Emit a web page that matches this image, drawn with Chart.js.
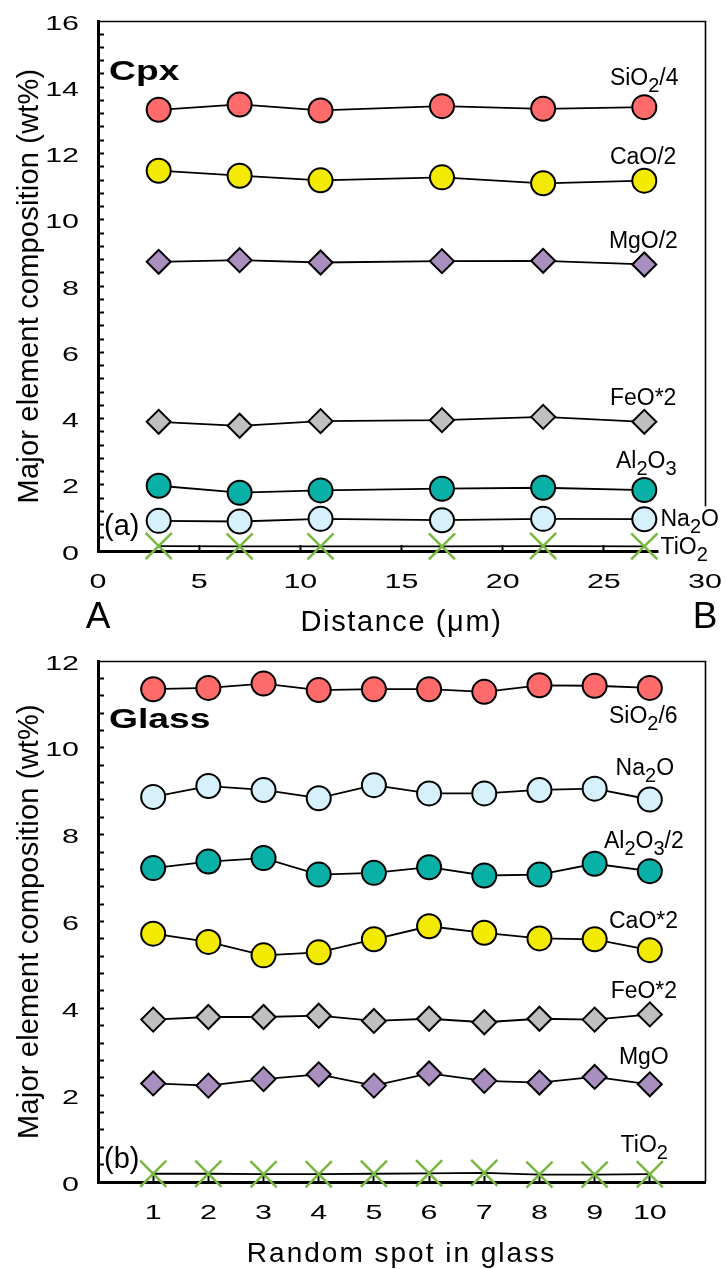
<!DOCTYPE html>
<html>
<head>
<meta charset="utf-8">
<script src="https://cdn.jsdelivr.net/npm/chart.js@4.4.1/dist/chart.umd.min.js"></script>
<style>
  html, body { margin: 0; padding: 0; background: #fff; }
  #wrap { position: relative; width: 726px; height: 1269px; }
  .panel { position: absolute; left: 0; width: 726px; }
  #p1 { top: 0; height: 640px; }
  #p2 { top: 640px; height: 629px; }
</style>
</head>
<body>
<div id="wrap">
  <div class="panel" id="p1"><canvas id="cpxChart" width="726" height="640"></canvas></div>
  <div class="panel" id="p2"><canvas id="glassChart" width="726" height="629"></canvas></div>
</div>
<script>
// (a) Cpx traverse A -> B, distance in um
const cpxDistance = [3, 7, 11, 17, 22, 27];
const cpxSiO2 = [13.32, 13.48, 13.30, 13.43, 13.35, 13.40];  // SiO2/4
const cpxCaO = [11.48, 11.33, 11.19, 11.28, 11.10, 11.18];   // CaO/2
const cpxMgO = [8.73, 8.78, 8.71, 8.75, 8.76, 8.65];         // MgO/2
const cpxFeO = [3.90, 3.78, 3.92, 3.95, 4.05, 3.90];         // FeO*2
const cpxAl2O3 = [1.97, 1.76, 1.83, 1.88, 1.91, 1.84];
const cpxNa2O = [0.91, 0.89, 0.97, 0.93, 0.97, 0.96];
const cpxTiO2 = [0.15, 0.14, 0.14, 0.14, 0.15, 0.14];
const cpxXLabels = [0, 5, 10, 15, 20, 25, 30];
const cpxYLabels = [0, 2, 4, 6, 8, 10, 12, 14, 16];

// (b) random spots in glass
const glassSpot = [1, 2, 3, 4, 5, 6, 7, 8, 9, 10];
const glassSiO2 = [11.35, 11.38, 11.48, 11.33, 11.35, 11.35, 11.29, 11.44, 11.43, 11.38];  // SiO2/6
const glassNa2O = [8.87, 9.12, 9.03, 8.84, 9.14, 8.95, 8.95, 9.03, 9.06, 8.81];
const glassAl2O3 = [7.23, 7.38, 7.46, 7.08, 7.12, 7.25, 7.06, 7.08, 7.33, 7.16];      // Al2O3/2
const glassCaO = [5.72, 5.53, 5.22, 5.29, 5.59, 5.89, 5.74, 5.61, 5.59, 5.34];        // CaO*2
const glassFeO = [3.74, 3.80, 3.80, 3.83, 3.71, 3.76, 3.68, 3.76, 3.74, 3.86];        // FeO*2
const glassMgO = [2.27, 2.22, 2.37, 2.48, 2.22, 2.50, 2.33, 2.29, 2.42, 2.25];
const glassTiO2 = [0.19, 0.19, 0.18, 0.18, 0.19, 0.20, 0.21, 0.17, 0.17, 0.18];
const glassXLabels = [1, 2, 3, 4, 5, 6, 7, 8, 9, 10];
const glassYLabels = [0, 2, 4, 6, 8, 10, 12];

const FONT = '"Liberation Sans", Arial, sans-serif';
const SUBSHIFT = 7;

const fills = {
  sio2: '#ff6b6b',
  cao: '#f2ea00',
  mgo: '#a98fc0',
  feo: '#bfbfbf',
  al: '#08b0a5',
  na: '#d6f1fb',
  ti: '#78b840'
};

function pts(xs, ys) {
  return xs.map((v, i) => ({ x: v, y: ys[i] }));
}

function series(label, xs, ys, shape, fill) {
  const d = {
    label: label,
    data: pts(xs, ys),
    borderColor: '#000',
    borderWidth: 1.8,
    fill: false,
    tension: 0,
    clip: false,
    pointBorderColor: '#000',
    pointBorderWidth: 2,
    pointBackgroundColor: fill
  };
  if (shape === 'circle') { d.pointStyle = 'circle'; d.pointRadius = 12; }
  if (shape === 'diamond') { d.pointStyle = 'rectRot'; d.pointRadius = 12; }
  if (shape === 'cross') {
    d.pointStyle = 'crossRot';
    d.pointRadius = 18.5;
    d.pointBorderColor = fill;
    d.pointBorderWidth = 2.5;
  }
  return d;
}

// 'SiO_2/4' -> SiO, subscript 2, /4
function parseRich(text) {
  const parts = [];
  let buf = '';
  for (let i = 0; i < text.length; i++) {
    if (text[i] === '_' && i + 1 < text.length) {
      if (buf) { parts.push({ t: buf, sub: false }); buf = ''; }
      parts.push({ t: text[i + 1], sub: true });
      i++;
    } else {
      buf += text[i];
    }
  }
  if (buf) parts.push({ t: buf, sub: false });
  return parts;
}

function drawRich(ctx, text, x, y, size, bg) {
  const parts = parseRich(text);
  const main = size + 'px ' + FONT;
  const small = Math.round(size * 0.87) + 'px ' + FONT;
  ctx.save();
  ctx.textAlign = 'left';
  ctx.textBaseline = 'alphabetic';
  let w = 0;
  parts.forEach((p) => {
    ctx.font = p.sub ? small : main;
    p.w = ctx.measureText(p.t).width;
    w += p.w;
  });
  if (bg) {
    ctx.fillStyle = '#fff';
    ctx.fillRect(x - 2, y - size * 0.86, w + 8, size * 0.86 + SUBSHIFT + 4);
  }
  ctx.fillStyle = '#000';
  let cx = x;
  parts.forEach((p) => {
    ctx.font = p.sub ? small : main;
    ctx.fillText(p.t, cx, p.sub ? y + SUBSHIFT : y);
    cx += p.w;
  });
  ctx.restore();
}

function drawText(ctx, str, x, y, o) {
  ctx.save();
  ctx.translate(x, y);
  if (o.rotate) ctx.rotate(o.rotate);
  ctx.scale(o.sx || 1, 1);
  ctx.font = o.font;
  ctx.letterSpacing = o.spacing || '0px';
  ctx.textAlign = o.align || 'left';
  ctx.textBaseline = 'alphabetic';
  ctx.fillStyle = '#000';
  ctx.fillText(str, 0, 0);
  ctx.restore();
}

function near(list, v) {
  return list.some((t) => Math.abs(t - v) < 1e-6);
}

const tickFont = { font: '21px ' + FONT, sx: 1.45 };

function paperPlugin(cfg) {
  return {
    id: 'paper_' + cfg.id,
    beforeDatasetsDraw(chart) {
      const { ctx, chartArea: a } = chart;
      ctx.save();
      ctx.strokeStyle = '#000';
      ctx.lineWidth = 1.6;
      ctx.beginPath();
      ctx.moveTo(a.left, a.top + 0.5);
      ctx.lineTo(a.right + 0.5, a.top + 0.5);
      ctx.lineTo(a.right + 0.5, a.bottom);
      ctx.stroke();
      ctx.restore();
    },
    afterDraw(chart) {
      const { ctx, chartArea: a } = chart;
      const xs = chart.scales.x;
      const ys = chart.scales.y;

      cfg.notes.forEach((n) => {
        drawRich(ctx, n.text, xs.getPixelForValue(n.x), ys.getPixelForValue(n.y), 23, n.bg);
      });

      ys.ticks.forEach((t) => {
        if (!near(cfg.yLabels, t.value)) return;
        drawText(ctx, String(Math.round(t.value)), a.left - 19, ys.getPixelForValue(t.value) + 8.5,
          Object.assign({ align: 'right' }, tickFont));
      });
      xs.ticks.forEach((t) => {
        if (!near(cfg.xLabels, t.value)) return;
        drawText(ctx, String(Math.round(t.value)), xs.getPixelForValue(t.value), a.bottom + 37,
          Object.assign({ align: 'center' }, tickFont));
      });

      const midX = (a.left + a.right) / 2;
      const midY = (a.top + a.bottom) / 2;
      drawText(ctx, cfg.xTitle, midX, cfg.xTitleY, { font: cfg.xTitleSize + 'px ' + FONT, align: 'center', spacing: cfg.xTitleSpacing });
      drawText(ctx, 'Major element composition (wt%)', 38, midY, { font: '29px ' + FONT, align: 'center', rotate: -Math.PI / 2, spacing: '0.2px' });

      drawText(ctx, cfg.tag, a.left + 11, cfg.tagY, { font: 'bold 28px ' + FONT, sx: 1.33 });
      drawText(ctx, cfg.panel, a.left + 6, cfg.panelY, { font: '29px ' + FONT });
      (cfg.ends || []).forEach((e) => {
        drawText(ctx, e.text, e.at === 'left' ? a.left : a.right, e.y, { font: '37px ' + FONT, align: 'center' });
      });
    }
  };
}

function axes(xMin, xMax, xStep, yMax, xHeight) {
  const hideEnds = (lo, hi) => (c) => {
    if (c.tick && (Math.abs(c.tick.value - lo) < 1e-6 || Math.abs(c.tick.value - hi) < 1e-6)) return 'rgba(0,0,0,0)';
    return '#000';
  };
  return {
    x: {
      type: 'linear',
      min: xMin,
      max: xMax,
      ticks: { stepSize: xStep, display: false },
      grid: { drawOnChartArea: false, tickLength: -6, tickWidth: 2, tickColor: hideEnds(xMin, xMax) },
      border: { width: 3, color: '#000' },
      afterFit: (s) => { s.height = xHeight; }
    },
    y: {
      type: 'linear',
      min: 0,
      max: yMax,
      ticks: { stepSize: 0.4, display: false },
      grid: { drawOnChartArea: false, tickLength: -6, tickWidth: 2, tickColor: hideEnds(0, yMax) },
      border: { width: 3, color: '#000' },
      afterFit: (s) => { s.width = 98; }
    }
  };
}

const baseOptions = (padTop, scales) => ({
  responsive: false,
  animation: false,
  events: [],
  layout: { padding: { top: padTop, right: 16, left: 0, bottom: 0 } },
  scales: scales,
  plugins: { legend: { display: false }, tooltip: { enabled: false } }
});

new Chart(document.getElementById('cpxChart').getContext('2d'), {
  type: 'line',
  data: {
    datasets: [
      series('SiO2/4', cpxDistance, cpxSiO2, 'circle', fills.sio2),
      series('CaO/2', cpxDistance, cpxCaO, 'circle', fills.cao),
      series('MgO/2', cpxDistance, cpxMgO, 'diamond', fills.mgo),
      series('FeO*2', cpxDistance, cpxFeO, 'diamond', fills.feo),
      series('Al2O3', cpxDistance, cpxAl2O3, 'circle', fills.al),
      series('Na2O', cpxDistance, cpxNa2O, 'circle', fills.na),
      series('TiO2', cpxDistance, cpxTiO2, 'cross', fills.ti)
    ]
  },
  options: baseOptions(20, axes(0, 30, 5, 16, 89)),
  plugins: [paperPlugin({
    id: 'cpx',
    xLabels: cpxXLabels,
    yLabels: cpxYLabels,
    xTitle: 'Distance (\u03bcm)',
    xTitleY: 631,
    xTitleSize: 29,
    xTitleSpacing: '1.6px',
    tag: 'Cpx',
    tagY: 80,
    panel: '(a)',
    panelY: 535,
    ends: [{ text: 'A', at: 'left', y: 628 }, { text: 'B', at: 'right', y: 628 }],
    notes: [
      { text: 'SiO_2/4', x: 25.3, y: 14.07 },
      { text: 'CaO/2', x: 25.3, y: 11.69 },
      { text: 'MgO/2', x: 25.25, y: 9.16 },
      { text: 'FeO*2', x: 25.3, y: 4.40 },
      { text: 'Al_2O_3', x: 25.6, y: 2.50 },
      { text: 'Na_2O', x: 27.8, y: 0.75, bg: true },
      { text: 'TiO_2', x: 27.8, y: -0.09, bg: true }
    ]
  })]
});

new Chart(document.getElementById('glassChart').getContext('2d'), {
  type: 'line',
  data: {
    datasets: [
      series('SiO2/6', glassSpot, glassSiO2, 'circle', fills.sio2),
      series('Na2O', glassSpot, glassNa2O, 'circle', fills.na),
      series('Al2O3/2', glassSpot, glassAl2O3, 'circle', fills.al),
      series('CaO*2', glassSpot, glassCaO, 'circle', fills.cao),
      series('FeO*2', glassSpot, glassFeO, 'diamond', fills.feo),
      series('MgO', glassSpot, glassMgO, 'diamond', fills.mgo),
      series('TiO2', glassSpot, glassTiO2, 'cross', fills.ti)
    ]
  },
  options: baseOptions(12, axes(0, 11, 1, 12, 87)),
  plugins: [paperPlugin({
    id: 'glass',
    xLabels: glassXLabels,
    yLabels: glassYLabels,
    xTitle: 'Random spot in glass',
    xTitleY: 622,
    xTitleSize: 28,
    xTitleSpacing: '2px',
    tag: 'Glass',
    tagY: 88,
    panel: '(b)',
    panelY: 528,
    notes: [
      { text: 'SiO_2/6', x: 9.26, y: 10.57 },
      { text: 'Na_2O', x: 9.38, y: 9.37 },
      { text: 'Al_2O_3/2', x: 9.17, y: 7.70 },
      { text: 'CaO*2', x: 9.26, y: 5.86 },
      { text: 'FeO*2', x: 9.29, y: 4.23 },
      { text: 'MgO', x: 9.44, y: 2.72 },
      { text: 'TiO_2', x: 9.47, y: 0.68 }
    ]
  })]
});
</script>
</body>
</html>
